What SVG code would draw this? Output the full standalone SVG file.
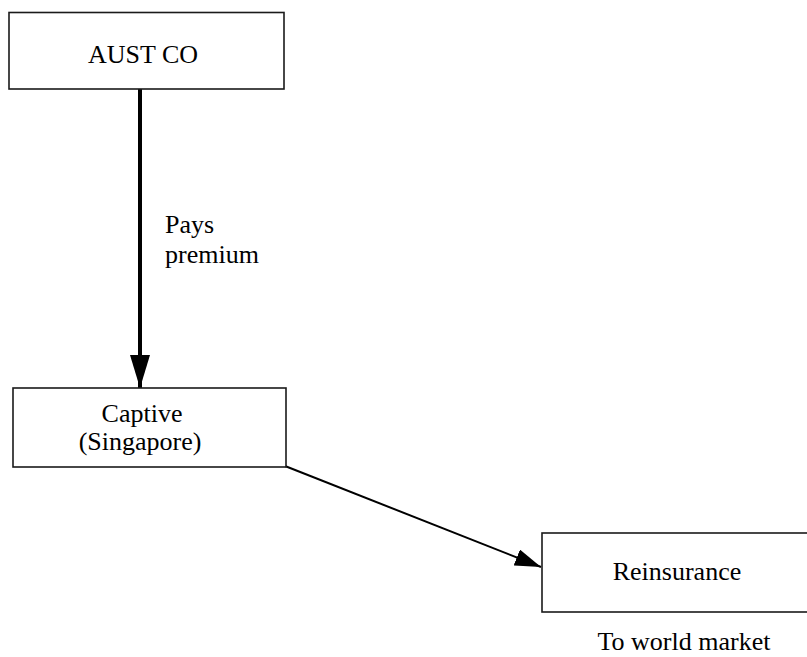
<svg xmlns="http://www.w3.org/2000/svg" width="807" height="657" viewBox="0 0 807 657">
  <style>
    .box { fill: #ffffff; stroke: #1a1a1a; stroke-width: 1.6; }
    .lbl { font-family: "Liberation Serif", "Times New Roman", serif; font-size: 26px; fill: #000000; }
    .mid { text-anchor: middle; }
    .edge { stroke: #000000; fill: none; }
  </style>
  <defs>
    <marker id="headBig" viewBox="0 0 10 10" refX="10" refY="5" markerUnits="userSpaceOnUse" markerWidth="33" markerHeight="20" orient="auto" preserveAspectRatio="none">
      <path d="M0,0 L10,5 L0,10 z" fill="#000000"/>
    </marker>
    <marker id="headSmall" viewBox="0 0 10 10" refX="10" refY="5" markerUnits="userSpaceOnUse" markerWidth="26" markerHeight="17" orient="auto" preserveAspectRatio="none">
      <path d="M0,0 L10,5 L0,10 z" fill="#000000"/>
    </marker>
  </defs>
  <rect width="807" height="657" fill="#ffffff"/>

  <g id="connectors">
    <line class="edge" x1="140" y1="89" x2="140" y2="388" stroke-width="4" marker-end="url(#headBig)"/>
    <line class="edge" x1="285" y1="466" x2="541" y2="567" stroke-width="2" marker-end="url(#headSmall)"/>
    <text class="lbl" x="165" y="233">Pays</text>
    <text class="lbl" x="165" y="263">premium</text>
  </g>

  <g id="aust-co">
    <rect class="box" x="9" y="12.5" width="275" height="76.5"/>
    <text class="lbl mid" x="143" y="63">AUST CO</text>
  </g>

  <g id="captive">
    <rect class="box" x="13" y="388" width="273" height="79"/>
    <text class="lbl mid" x="142" y="422">Captive</text>
    <text class="lbl mid" x="140" y="450">(Singapore)</text>
  </g>

  <g id="reinsurance">
    <rect class="box" x="542" y="533" width="270" height="79"/>
    <text class="lbl mid" x="677" y="580">Reinsurance</text>
    <text class="lbl mid" x="684" y="650">To world market</text>
  </g>
</svg>
